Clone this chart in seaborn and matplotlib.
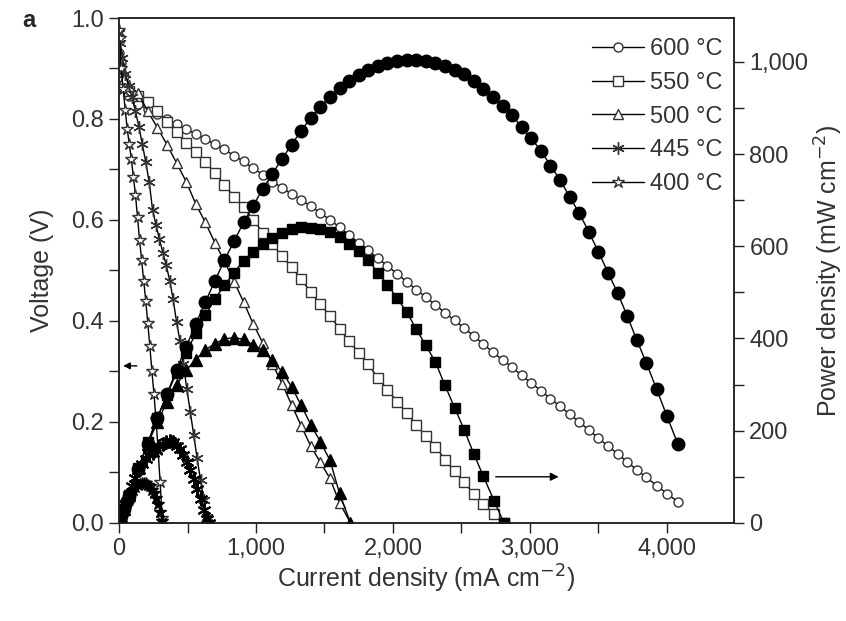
import matplotlib
matplotlib.use("Agg")
import matplotlib.pyplot as plt
import matplotlib.ticker as mticker
import seaborn as sns

# 600 °C
cur_600 = [0, 15, 35, 55, 70, 140, 210, 280, 350, 420, 490, 560, 630, 700, 770, 840, 910, 980,
           1050, 1120, 1190, 1260, 1330, 1400, 1470, 1540, 1610, 1680, 1750, 1820, 1890, 1960,
           2030, 2100, 2170, 2240, 2310, 2380, 2450, 2520, 2590, 2660, 2730, 2800, 2870, 2940,
           3010, 3080, 3150, 3220, 3290, 3360, 3430, 3500, 3570, 3640, 3710, 3780, 3850, 3925,
           4000, 4080]
volt_600 = [0.93, 0.91, 0.885, 0.86, 0.845, 0.83, 0.82, 0.81, 0.80, 0.79, 0.78, 0.77, 0.76, 0.75,
            0.74, 0.727, 0.716, 0.702, 0.69, 0.676, 0.664, 0.651, 0.64, 0.627, 0.614, 0.60, 0.586,
            0.570, 0.555, 0.540, 0.524, 0.509, 0.493, 0.478, 0.462, 0.447, 0.432, 0.416, 0.401,
            0.386, 0.370, 0.354, 0.338, 0.323, 0.308, 0.292, 0.277, 0.262, 0.246, 0.231, 0.215,
            0.200, 0.184, 0.168, 0.152, 0.137, 0.121, 0.105, 0.090, 0.074, 0.058, 0.042]
pow_600 = [0, 14, 31, 47, 59, 116, 172, 227, 280, 332, 382, 431, 479, 525, 570, 611, 652, 688,
           725, 757, 790, 820, 851, 878, 903, 924, 943, 958, 971, 983, 990, 998, 1001, 1004, 1003,
           1001, 998, 990, 982, 973, 958, 942, 923, 904, 884, 858, 834, 807, 775, 744, 707, 672,
           631, 588, 543, 499, 449, 397, 347, 290, 232, 171]

# 550 °C
cur_550 = [0, 15, 35, 70, 140, 210, 280, 350, 420, 490, 560, 630, 700, 770, 840, 910, 980, 1050,
           1120, 1190, 1260, 1330, 1400, 1470, 1540, 1610, 1680, 1750, 1820, 1890, 1960, 2030,
           2100, 2170, 2240, 2310, 2380, 2450, 2520, 2590, 2660, 2740, 2810]
volt_550 = [0.90, 0.88, 0.865, 0.855, 0.845, 0.834, 0.815, 0.795, 0.775, 0.753, 0.734, 0.715,
            0.694, 0.669, 0.646, 0.625, 0.600, 0.575, 0.552, 0.528, 0.506, 0.483, 0.457, 0.433,
            0.41, 0.385, 0.360, 0.337, 0.314, 0.287, 0.264, 0.240, 0.218, 0.194, 0.172, 0.151,
            0.125, 0.102, 0.080, 0.058, 0.038, 0.017, 0.0]
pow_550 = [0, 13, 30, 60, 118, 175, 228, 278, 326, 369, 411, 450, 486, 515, 543, 569, 588, 604,
           618, 628, 638, 642, 640, 637, 631, 620, 605, 590, 571, 542, 517, 487, 458, 420, 385,
           349, 298, 250, 202, 150, 101, 47, 0]

# 500 °C
cur_500 = [0, 15, 35, 70, 140, 210, 280, 350, 420, 490, 560, 630, 700, 770, 840, 910, 980, 1050,
           1120, 1190, 1260, 1330, 1400, 1470, 1540, 1610, 1690]
volt_500 = [0.93, 0.90, 0.88, 0.865, 0.851, 0.815, 0.783, 0.749, 0.713, 0.676, 0.632, 0.595,
            0.555, 0.518, 0.478, 0.437, 0.394, 0.356, 0.315, 0.276, 0.234, 0.192, 0.152, 0.12,
            0.088, 0.04, 0.0]
pow_500 = [0, 14, 31, 61, 119, 171, 219, 262, 299, 331, 354, 375, 389, 399, 402, 398, 386, 374,
           353, 328, 295, 255, 213, 176, 136, 64, 0]

# 445 °C
cur_445 = [0, 10, 25, 45, 70, 95, 120, 145, 170, 195, 220, 245, 270, 295, 320, 345, 370, 395,
           420, 445, 470, 495, 520, 545, 570, 595, 620, 645, 660]
volt_445 = [0.97, 0.95, 0.92, 0.89, 0.865, 0.843, 0.815, 0.785, 0.75, 0.715, 0.675, 0.62, 0.59,
            0.562, 0.535, 0.51, 0.48, 0.443, 0.398, 0.36, 0.315, 0.265, 0.22, 0.175, 0.128,
            0.085, 0.045, 0.012, 0.0]
pow_445 = [0, 9.5, 23, 40, 61, 80, 98, 114, 128, 139, 149, 152, 159, 166, 171, 176, 178, 175,
           167, 160, 148, 131, 114, 95, 73, 51, 28, 8, 0]

# 400 °C
cur_400 = [0, 5, 15, 30, 45, 60, 75, 90, 105, 120, 135, 150, 165, 180, 195, 210, 225, 240, 255,
           270, 285, 300, 315]
volt_400 = [0.976, 0.96, 0.90, 0.86, 0.818, 0.78, 0.75, 0.72, 0.685, 0.65, 0.605, 0.56, 0.52,
            0.48, 0.44, 0.395, 0.35, 0.30, 0.255, 0.205, 0.145, 0.08, 0.01]
pow_400 = [0, 4.8, 13.5, 26, 37, 47, 56, 65, 72, 78, 82, 84, 86, 86, 86, 83, 79, 72, 65, 55, 41,
           24, 3]

labels = ['600 °C', '550 °C', '500 °C', '445 °C', '400 °C']

sns.set_theme(style="ticks")
plt.rcParams['font.family'] = ['Liberation Sans', 'DejaVu Sans']

fig, ax = plt.subplots(figsize=(8.46, 6.21), dpi=100)
fig.subplots_adjust(left=0.1407, right=0.8676, top=0.971, bottom=0.158)
ax2 = ax.twinx()

asterisk = (6, 2, 0)
series = [
    (cur_600, volt_600, pow_600, 'o', 6.5, 9),
    (cur_550, volt_550, pow_550, 's', 6.5, 7.5),
    (cur_500, volt_500, pow_500, '^', 7.5, 8),
    (cur_445, volt_445, pow_445, asterisk, 9, 10),
    (cur_400, volt_400, pow_400, '*', 9, 9),
]

for (cur, volt, pw, mk, ms_open, ms_fill), lab in zip(series, labels):
    sns.lineplot(x=cur, y=volt, ax=ax, sort=False, estimator=None, color='black', lw=1,
                 marker=mk, ms=ms_open, mfc='white', mec='#333333', mew=1.0, label=lab)
    sns.lineplot(x=cur, y=pw, ax=ax2, sort=False, estimator=None, color='black', lw=1,
                 marker=mk, ms=ms_fill, mfc='black', mec='black',
                 mew=1.5 if mk == asterisk else 1.0)

ax.set_xlim(0, 4490)
ax.set_ylim(0, 1.0)
ax2.set_ylim(0, 1095)

fs_tick = 17
fs_lab = 18
txt = '#333333'
ax.set_xlabel('Current density (mA cm$^{-2}$)', fontsize=fs_lab, labelpad=2, color=txt)
ax.set_ylabel('Voltage (V)', fontsize=fs_lab, labelpad=12, color=txt)
ax2.set_ylabel('Power density (mW cm$^{-2}$)', fontsize=fs_lab, labelpad=3, color=txt)

comma = mticker.FuncFormatter(lambda v, p: f'{int(v):,}')
ax.xaxis.set_major_locator(mticker.MultipleLocator(1000))
ax.xaxis.set_minor_locator(mticker.MultipleLocator(500))
ax.xaxis.set_major_formatter(comma)
ax.yaxis.set_major_locator(mticker.MultipleLocator(0.2))
ax.yaxis.set_minor_locator(mticker.MultipleLocator(0.1))
ax.yaxis.set_major_formatter(mticker.FormatStrFormatter('%.1f'))
ax2.yaxis.set_major_locator(mticker.MultipleLocator(200))
ax2.yaxis.set_minor_locator(mticker.MultipleLocator(100))
ax2.yaxis.set_major_formatter(comma)

for a in (ax, ax2):
    a.tick_params(which='both', direction='out', length=7, width=1, colors='#222222',
                  labelsize=fs_tick, labelcolor=txt, pad=4)
    for s in a.spines.values():
        s.set_linewidth(1.1)
        s.set_color('#222222')

leg = ax.legend(loc='upper right', bbox_to_anchor=(1.008, 0.993), frameon=False,
                fontsize=fs_tick, handlelength=2.2, handletextpad=0.25, labelspacing=0.5,
                borderpad=0.2)
for t in leg.get_texts():
    t.set_color(txt)

# arrows pointing to the relevant axis
ax.annotate('', xy=(10, 0.311), xytext=(150, 0.311),
            arrowprops=dict(arrowstyle='-|>', color='black', lw=1, mutation_scale=10))
ax2.annotate('', xy=(3230, 100), xytext=(2730, 100),
             arrowprops=dict(arrowstyle='-|>', color='black', lw=1, mutation_scale=12))

fig.text(0.026, 0.985, 'a', fontsize=17, fontweight='bold', va='top')

fig.savefig('out.png', dpi=100)
